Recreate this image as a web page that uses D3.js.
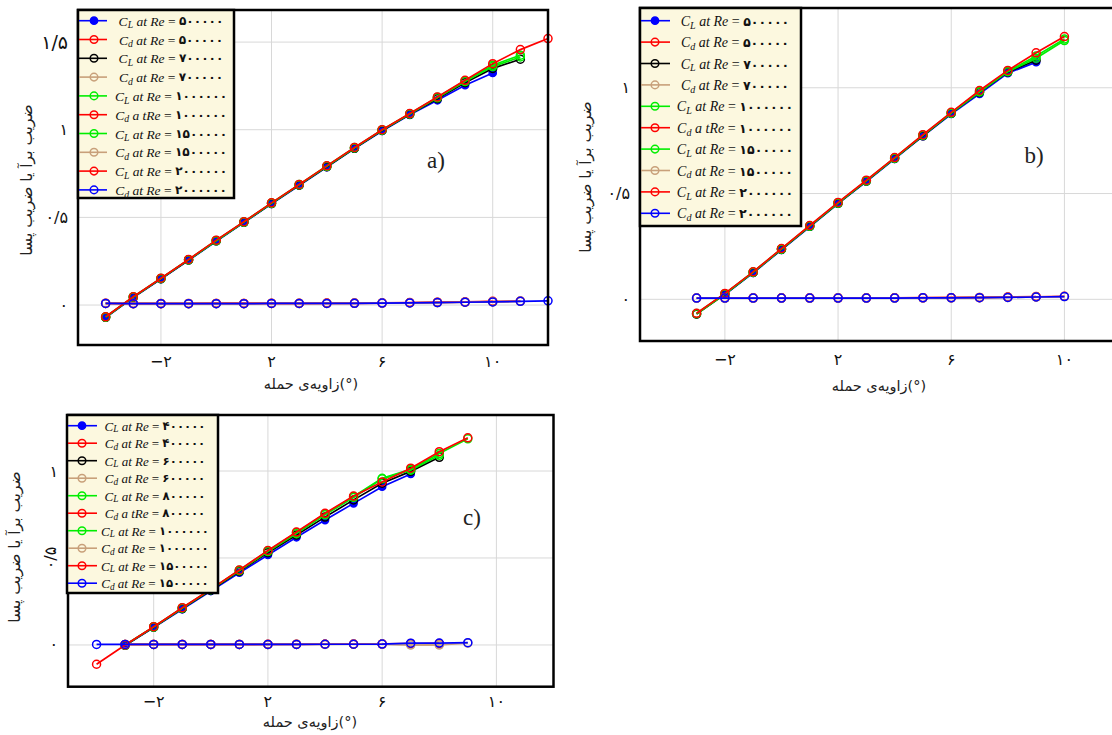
<!DOCTYPE html>
<html>
<head>
<meta charset="utf-8">
<script src="https://cdn.jsdelivr.net/npm/d3@7"></script>
<style>
  html, body { margin: 0; padding: 0; background: #ffffff; overflow: hidden; }
  svg { display: block; }
</style>
</head>
<body>
<svg id="chart" width="1112" height="735"></svg>
<script>
// ---------- data ----------
// angle of attack (degrees) for each panel
const alphaA = [-4, -3, -2, -1, 0, 1, 2, 3, 4, 5, 6, 7, 8, 9, 10, 11, 12];
const alphaB = [-3, -2, -1, 0, 1, 2, 3, 4, 5, 6, 7, 8, 9, 10];
const alphaC = [-4, -3, -2, -1, 0, 1, 2, 3, 4, 5, 6, 7, 8, 9];

// Reynolds numbers shown in each legend
const reA = ["۵۰۰۰۰۰", "۷۰۰۰۰۰", "۱۰۰۰۰۰۰", "۱۵۰۰۰۰۰", "۲۰۰۰۰۰۰"];
const reB = ["۵۰۰۰۰۰", "۷۰۰۰۰۰", "۱۰۰۰۰۰۰", "۱۵۰۰۰۰۰", "۲۰۰۰۰۰۰"];
const reC = ["۴۰۰۰۰۰", "۶۰۰۰۰۰", "۸۰۰۰۰۰", "۱۰۰۰۰۰۰", "۱۵۰۰۰۰۰"];

// panel a: lift and drag coefficients (null = not computed)
const clA1 = [-0.072, 0.043, 0.148, 0.255, 0.364, 0.470, 0.577, 0.682, 0.787, 0.892, 0.993, 1.085, 1.168, 1.254, 1.324, null, null];
const cdA1 = [0.010, 0.009, 0.009, 0.009, 0.009, 0.009, 0.010, 0.010, 0.011, 0.011, 0.012, 0.014, 0.016, 0.018, 0.021, null, null];
const clA2 = [-0.070, 0.045, 0.150, 0.257, 0.366, 0.472, 0.579, 0.684, 0.789, 0.894, 0.996, 1.088, 1.177, 1.268, 1.350, 1.402, null];
const cdA2 = [0.009, 0.009, 0.009, 0.009, 0.009, 0.009, 0.009, 0.010, 0.010, 0.011, 0.012, 0.013, 0.015, 0.017, 0.020, 0.023, null];
const clA3 = [-0.069, 0.046, 0.151, 0.258, 0.367, 0.473, 0.580, 0.686, 0.791, 0.896, 0.998, 1.090, 1.182, 1.275, 1.360, 1.415, null];
const cdA3 = [0.009, 0.008, 0.008, 0.008, 0.009, 0.009, 0.009, 0.009, 0.010, 0.010, 0.011, 0.013, 0.015, 0.017, 0.019, 0.022, null];
const clA4 = [-0.068, 0.046, 0.152, 0.259, 0.368, 0.474, 0.582, 0.687, 0.793, 0.898, 0.999, 1.091, 1.185, 1.279, 1.368, 1.425, null];
const cdA4 = [0.009, 0.008, 0.008, 0.008, 0.008, 0.008, 0.009, 0.009, 0.009, 0.010, 0.011, 0.012, 0.014, 0.016, 0.018, 0.021, null];
const clA5 = [-0.067, 0.047, 0.153, 0.260, 0.370, 0.475, 0.583, 0.688, 0.794, 0.899, 1.000, 1.092, 1.187, 1.282, 1.377, 1.457, 1.520];
const cdA5 = [0.009, 0.008, 0.008, 0.008, 0.008, 0.008, 0.009, 0.009, 0.009, 0.010, 0.011, 0.012, 0.014, 0.016, 0.018, 0.021, 0.024];

// panel b
const clB1 = [null, 0.022, 0.125, 0.234, 0.343, 0.452, 0.557, 0.664, 0.771, 0.876, 0.971, 1.069, 1.121, null];
const cdB1 = [null, 0.007, 0.007, 0.007, 0.007, 0.007, 0.007, 0.007, 0.008, 0.008, 0.009, 0.011, 0.013, null];
const clB2 = [-0.070, 0.024, 0.127, 0.236, 0.345, 0.454, 0.559, 0.666, 0.773, 0.879, 0.978, 1.074, 1.130, null];
const cdB2 = [0.006, 0.006, 0.006, 0.006, 0.006, 0.007, 0.007, 0.007, 0.007, 0.008, 0.009, 0.010, 0.012, null];
const clB3 = [-0.068, 0.025, 0.128, 0.237, 0.346, 0.455, 0.560, 0.667, 0.775, 0.880, 0.980, 1.076, 1.140, 1.223];
const cdB3 = [0.006, 0.006, 0.006, 0.006, 0.006, 0.006, 0.006, 0.007, 0.007, 0.008, 0.008, 0.010, 0.012, 0.014];
const clB4 = [-0.067, 0.026, 0.129, 0.238, 0.347, 0.456, 0.561, 0.668, 0.776, 0.882, 0.983, 1.078, 1.150, 1.230];
const cdB4 = [0.006, 0.006, 0.006, 0.006, 0.006, 0.006, 0.006, 0.006, 0.007, 0.007, 0.008, 0.009, 0.011, 0.013];
const clB5 = [-0.066, 0.028, 0.130, 0.240, 0.349, 0.458, 0.563, 0.670, 0.778, 0.884, 0.987, 1.082, 1.165, 1.242];
const cdB5 = [0.006, 0.006, 0.006, 0.006, 0.006, 0.006, 0.006, 0.006, 0.007, 0.007, 0.008, 0.009, 0.011, 0.013];

// panel c
const clC1 = [null, -0.004, 0.100, 0.205, 0.310, 0.415, 0.517, 0.619, 0.718, 0.814, 0.910, 0.983, null, null];
const cdC1 = [null, 0.003, 0.003, 0.003, 0.003, 0.003, 0.004, 0.004, 0.004, 0.005, 0.006, 0.008, null, null];
const clC2 = [null, -0.002, 0.102, 0.209, 0.315, 0.423, 0.530, 0.632, 0.735, 0.834, 0.930, 0.998, 1.079, null];
const cdC2 = [null, 0.003, 0.003, 0.003, 0.003, 0.003, 0.003, 0.004, 0.004, 0.004, 0.005, 0.001, 0.001, null];
const clC3 = [null, -0.001, 0.103, 0.211, 0.318, 0.427, 0.537, 0.640, 0.748, 0.848, 0.955, 1.005, 1.090, null];
const cdC3 = [null, 0.003, 0.003, 0.003, 0.003, 0.003, 0.003, 0.003, 0.004, 0.004, 0.005, 0.007, 0.009, null];
const clC4 = [null, 0.000, 0.104, 0.213, 0.319, 0.430, 0.541, 0.646, 0.753, 0.853, 0.958, 1.010, 1.100, 1.185];
const cdC4 = [null, 0.003, 0.003, 0.003, 0.003, 0.003, 0.003, 0.003, 0.003, 0.004, 0.005, 0.001, 0.001, 0.011];
const clC5 = [-0.111, 0.000, 0.105, 0.214, 0.320, 0.431, 0.543, 0.649, 0.757, 0.856, 0.937, 1.016, 1.111, 1.191];
const cdC5 = [0.003, 0.003, 0.003, 0.003, 0.003, 0.003, 0.003, 0.003, 0.004, 0.004, 0.005, 0.010, 0.011, 0.013];

// axis ticks
const xTicks = [-2, 2, 6, 10];
const xTickLabels = ["−۲", "۲", "۶", "۱۰"];
const yTicksA = [0, 0.5, 1, 1.5];
const yTickLabelsA = ["۰", "۰/۵", "۱", "۱/۵"];
const yTicksBC = [0, 0.5, 1];
const yTickLabelsBC = ["۰", "۰/۵", "۱"];

// texts
const xTitle = "(°)زاویه‌ی حمله";
const yTitle = "ضریب برآ یا ضریب پسا";

// ---------- styling ----------
// legend / drawing order: CL1, Cd1, CL2, Cd2, ... CL5, Cd5
const seriesColors = ["#0000ff", "#ff0000", "#000000", "#c8a07a", "#00ee00",
                      "#ff0000", "#00ee00", "#c8a07a", "#ff0000", "#0000ff"];
const seriesFilled = [true, false, false, false, false, false, false, false, false, false];

function makeSeries(re, cls, cds) {
  const out = [];
  for (let i = 0; i < 5; i++) {
    out.push({ kind: "L", re: re[i], vals: cls[i], typo: false });
    out.push({ kind: "d", re: re[i], vals: cds[i], typo: i === 2 });
  }
  return out;
}

const panels = [
  {
    alpha: alphaA,
    series: makeSeries(reA, [clA1, clA2, clA3, clA4, clA5], [cdA1, cdA2, cdA3, cdA4, cdA5]),
    xRange: [78, 548], yRange: [345, 10], yDomain: [-0.228, 1.683],
    yTicks: yTicksA, yTickLabels: yTickLabelsA, rotateHalf: false,
    legend: { x0: 78, y0: 10, x1: 234, y1: 198, rowY: 20.7, rowDy: 18.8, lineX: [78, 107], markX: 94, textX: 171, fs: 13.5 },
    tag: "a)", tagX: 436, tagY: 168,
    yTitleX: 27, yTitleY: 180, xTitleX: 311, xTitleY: 384, xTickY: 361, yTickX: 68
  },
  {
    alpha: alphaB,
    series: makeSeries(reB, [clB1, clB2, clB3, clB4, clB5], [cdB1, cdB2, cdB3, cdB4, cdB5]),
    xRange: [640, 1121], yRange: [341, 8], yDomain: [-0.197, 1.377],
    yTicks: yTicksBC, yTickLabels: yTickLabelsBC, rotateHalf: false,
    legend: { x0: 640, y0: 8, x1: 801, y1: 226, rowY: 20.7, rowDy: 21.4, lineX: [640, 670], markX: 655, textX: 735, fs: 14 },
    tag: "b)", tagX: 1034, tagY: 163,
    yTitleX: 586, yTitleY: 177, xTitleX: 879, xTitleY: 386, xTickY: 359, yTickX: 630
  },
  {
    alpha: alphaC,
    series: makeSeries(reC, [clC1, clC2, clC3, clC4, clC5], [cdC1, cdC2, cdC3, cdC4, cdC5]),
    xRange: [68, 553.5], yRange: [686.7, 415], yDomain: [-0.24, 1.322],
    yTicks: yTicksBC, yTickLabels: yTickLabelsBC, rotateHalf: true,
    legend: { x0: 67, y0: 415, x1: 218, y1: 593, rowY: 425.7, rowDy: 17.5, lineX: [67, 97], markX: 82, textX: 155, fs: 13 },
    tag: "c)", tagX: 472, tagY: 525,
    yTitleX: 15, yTitleY: 547, xTitleX: 310, xTitleY: 722, xTickY: 701, yTickX: 58
  }
];

const svg = d3.select("#chart");
const persianFont = "'DejaVu Sans', sans-serif";
const mathFont = "'Liberation Serif', 'DejaVu Serif', serif";

panels.forEach((p, pi) => {
  const g = svg.append("g").attr("class", "panel panel-" + pi);
  const x = d3.scaleLinear().domain([-5, 12]).range(p.xRange);
  const y = d3.scaleLinear().domain(p.yDomain).range(p.yRange);

  const clipId = "clip-" + pi;
  g.append("clipPath").attr("id", clipId)
    .append("rect")
    .attr("x", p.xRange[0] - 6).attr("y", p.yRange[1] - 6)
    .attr("width", p.xRange[1] - p.xRange[0] + 12)
    .attr("height", p.yRange[0] - p.yRange[1] + 12);

  // grid
  const grid = g.append("g").attr("class", "grid");
  grid.selectAll("line.gx").data(xTicks).join("line")
    .attr("x1", d => x(d)).attr("x2", d => x(d))
    .attr("y1", p.yRange[1]).attr("y2", p.yRange[0])
    .attr("stroke", "#d8d8d8").attr("stroke-width", 1);
  grid.selectAll("line.gy").data(p.yTicks).join("line")
    .attr("x1", p.xRange[0]).attr("x2", p.xRange[1])
    .attr("y1", d => y(d)).attr("y2", d => y(d))
    .attr("stroke", "#d8d8d8").attr("stroke-width", 1);

  // series
  const plot = g.append("g").attr("clip-path", `url(#${clipId})`);
  const line = d3.line()
    .defined(d => d.v !== null)
    .x(d => x(d.a)).y(d => y(d.v));

  p.series.forEach((s, si) => {
    const pts = p.alpha.map((a, i) => ({ a: a, v: s.vals[i] }));
    const valid = pts.filter(d => d.v !== null);
    const col = seriesColors[si];
    plot.append("path")
      .datum(pts)
      .attr("d", line)
      .attr("fill", "none")
      .attr("stroke", col)
      .attr("stroke-width", 1.7);
    plot.selectAll(null).data(valid).join("circle")
      .attr("cx", d => x(d.a)).attr("cy", d => y(d.v))
      .attr("r", seriesFilled[si] ? 3.6 : 4)
      .attr("fill", seriesFilled[si] ? col : "none")
      .attr("stroke", col)
      .attr("stroke-width", 1.5);
  });

  // frame
  g.append("rect")
    .attr("x", p.xRange[0]).attr("y", p.yRange[1])
    .attr("width", p.xRange[1] - p.xRange[0])
    .attr("height", p.yRange[0] - p.yRange[1])
    .attr("fill", "none").attr("stroke", "#000").attr("stroke-width", 2.5);

  // x tick labels
  g.selectAll("text.xt").data(xTicks).join("text")
    .attr("class", "xt")
    .attr("x", d => x(d)).attr("y", p.xTickY)
    .attr("text-anchor", "middle").attr("dominant-baseline", "central")
    .attr("font-family", persianFont).attr("font-size", 16)
    .attr("fill", "#111")
    .text((d, i) => xTickLabels[i]);

  // y tick labels
  g.selectAll("text.yt").data(p.yTicks).join("text")
    .attr("class", "yt")
    .attr("transform", (d, i) => {
      const ty = y(d);
      if (p.rotateHalf && d === 0.5) return `translate(${p.yTickX - 8},${ty}) rotate(-90)`;
      return `translate(${p.yTickX},${ty})`;
    })
    .attr("text-anchor", d => (p.rotateHalf && d === 0.5) ? "middle" : "end")
    .attr("dominant-baseline", "central")
    .attr("font-family", persianFont)
    .attr("font-size", (d) => d === 1.5 ? 19 : 16)
    .attr("fill", "#111")
    .text((d, i) => p.yTickLabels[i]);

  // axis titles
  g.append("text")
    .attr("x", p.xTitleX).attr("y", p.xTitleY)
    .attr("text-anchor", "middle").attr("dominant-baseline", "central")
    .attr("direction", "rtl").attr("unicode-bidi", "embed")
    .attr("font-family", persianFont).attr("font-size", 14.5)
    .attr("fill", "#222")
    .text(xTitle);
  g.append("text")
    .attr("transform", `translate(${p.yTitleX},${p.yTitleY}) rotate(-90)`)
    .attr("text-anchor", "middle").attr("dominant-baseline", "central")
    .attr("direction", "rtl").attr("unicode-bidi", "embed")
    .attr("font-family", persianFont).attr("font-size", 15.5)
    .attr("fill", "#222")
    .text(yTitle);

  // panel tag
  g.append("text")
    .attr("x", p.tagX).attr("y", p.tagY)
    .attr("text-anchor", "middle")
    .attr("font-family", mathFont).attr("font-size", 23)
    .attr("fill", "#222")
    .text(p.tag);

  // legend
  const L = p.legend;
  const lg = g.append("g").attr("class", "legend");
  lg.append("rect")
    .attr("x", L.x0).attr("y", L.y0)
    .attr("width", L.x1 - L.x0).attr("height", L.y1 - L.y0)
    .attr("fill", "#fcf8df").attr("stroke", "#000").attr("stroke-width", 2.5);
  p.series.forEach((s, si) => {
    const ry = L.rowY + si * L.rowDy;
    const col = seriesColors[si];
    lg.append("line")
      .attr("x1", L.lineX[0] + 1).attr("x2", L.lineX[1])
      .attr("y1", ry).attr("y2", ry)
      .attr("stroke", col).attr("stroke-width", 1.6);
    lg.append("circle")
      .attr("cx", L.markX).attr("cy", ry)
      .attr("r", seriesFilled[si] ? 3.6 : 3.8)
      .attr("fill", seriesFilled[si] ? col : "none")
      .attr("stroke", col).attr("stroke-width", 1.5);
    const t = lg.append("text")
      .attr("x", L.textX).attr("y", ry)
      .attr("text-anchor", "middle").attr("dominant-baseline", "central")
      .attr("direction", "ltr")
      .attr("font-size", L.fs).attr("fill", "#111");
    t.append("tspan").attr("font-family", mathFont).attr("font-style", "italic").text("C");
    t.append("tspan").attr("font-family", mathFont).attr("font-style", "italic")
      .attr("font-size", L.fs * 0.72).attr("dy", L.fs * 0.28).text(s.kind);
    t.append("tspan").attr("font-family", mathFont).attr("font-style", "italic")
      .attr("dy", -L.fs * 0.28)
      .text(s.typo ? " a tRe" : " at Re");
    t.append("tspan").attr("font-family", mathFont).text(" = ");
    t.append("tspan").attr("font-family", persianFont).attr("font-weight", "bold")
      .attr("letter-spacing", 1.3)
      .attr("font-size", L.fs * 0.9).text(s.re);
  });
});
</script>
</body>
</html>
